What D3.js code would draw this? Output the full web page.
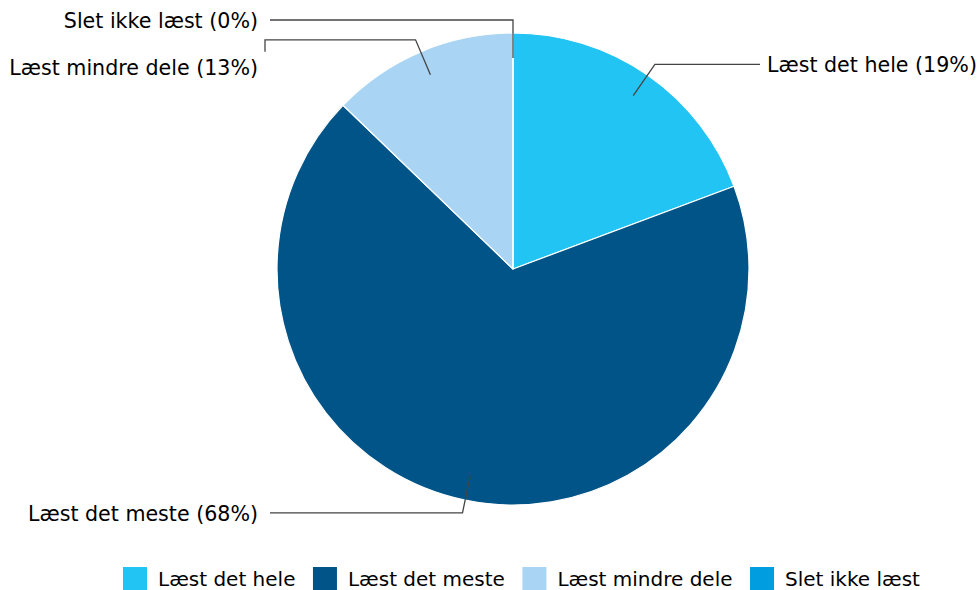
<!DOCTYPE html>
<html><head><meta charset="utf-8">
<script src="https://cdn.jsdelivr.net/npm/d3@7"></script>
<style>html,body{margin:0;padding:0;background:#fff;}svg{display:block;font-family:"DejaVu Sans",Verdana,sans-serif;}</style>
</head><body>
<svg id="c" width="979" height="590"></svg>
<script>
const categories = ["Læst det hele", "Læst det meste", "Læst mindre dele", "Slet ikke læst"];
const values = [19.3, 67.9, 12.8, 0];
const pctLabels = ["19%", "68%", "13%", "0%"];
const colors = ["#22c4f4", "#005487", "#a9d4f4", "#009ee0"];

const svg = d3.select("#c");
const cx = 513, cy = 269, R = 236;
const g = svg.append("g").attr("transform", `translate(${cx},${cy})`);

const pie = d3.pie().sort(null).value(d => d.v);
const data = categories.map((c, i) => ({c, v: values[i], p: pctLabels[i], col: colors[i]}));
const arcs = pie(data);
const arc = d3.arc().innerRadius(0).outerRadius(R);

g.selectAll("path.slice").data(arcs).join("path")
  .attr("class", "slice")
  .attr("d", arc)
  .attr("fill", d => d.data.col)
  .attr("stroke", "#fff").attr("stroke-width", 1.2).attr("stroke-linejoin", "round");

const inner = d3.arc().innerRadius(R - 25).outerRadius(R - 25);
const outer = d3.arc().innerRadius(R + 13).outerRadius(R + 13);
const labelShift = {"Læst mindre dele": 27};

arcs.forEach(a => {
  const mid = (a.startAngle + a.endAngle) / 2;
  const right = Math.sin(mid) > 0.001;
  const p1 = inner.centroid(a), p2 = outer.centroid(a);
  const xEnd = right ? 760 - cx : (labelShift[a.data.c] ? 265 - cx : 270 - cx);
  const pts = [p1, p2, [xEnd, p2[1]]];
  let ly = p2[1];
  if (labelShift[a.data.c]) {
    pts.push([xEnd, p2[1] + 12]);
    ly = p2[1] + labelShift[a.data.c];
  }
  g.append("path").attr("d", d3.line()(pts))
    .attr("fill", "none").attr("stroke", "#444").attr("stroke-width", 1.3);
  g.append("text")
    .attr("x", right ? 767 - cx : 258 - cx)
    .attr("y", ly + 8)
    .attr("text-anchor", right ? "start" : "end")
    .attr("font-size", 20.6).attr("fill", "#000")
    .text(`${a.data.c} (${a.data.p})`);
});

// legend
const lg = svg.append("g");
let x = 123;
data.forEach(d => {
  lg.append("rect").attr("x", x).attr("y", 567).attr("width", 24).attr("height", 23).attr("fill", d.col);
  const t = lg.append("text").attr("x", x + 35).attr("y", 586).attr("font-size", 20).attr("fill", "#000").text(d.c);
  x += 35 + t.node().getComputedTextLength() + 17.5;
});
</script>
</body></html>
